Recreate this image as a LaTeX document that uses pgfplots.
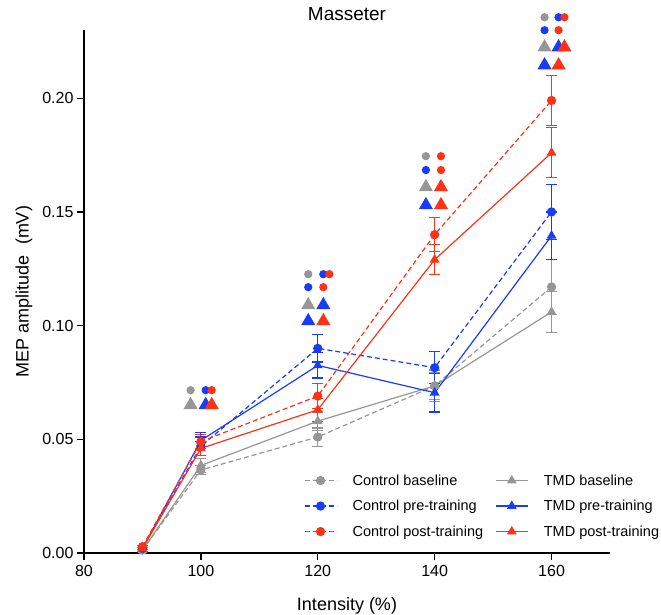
\documentclass[border=0pt]{standalone}
\usepackage{pgfplots}
\pgfplotsset{compat=1.18}
\usepackage{pgfplotstable}
\usepackage{fontspec}
\setmainfont{Liberation Sans}
\definecolor{cgray}{RGB}{150,150,150}
\definecolor{cblue}{RGB}{25,60,250}
\definecolor{cred}{RGB}{255,50,20}

\pgfplotstableread{
x y e
90 0.0012 0.0005
100 0.0365 0.002
120 0.051 0.004
140 0.0735 0.006
160 0.117 0.012
}\cbase
\pgfplotstableread{
x y e
90 0.0012 0.0005
100 0.0385 0.003
120 0.058 0.004
140 0.0735 0.007
160 0.106 0.009
}\tbase
\pgfplotstableread{
x y e
90 0.002 0.0005
100 0.047 0.004
120 0.090 0.006
140 0.0815 0.007
160 0.150 0.012
}\cpre
\pgfplotstableread{
x y e
90 0.002 0.0005
100 0.0495 0.0035
120 0.0825 0.0055
140 0.0705 0.0085
160 0.1395 0.0105
}\tpre
\pgfplotstableread{
x y e
90 0.0028 0.0005
100 0.049 0.003
120 0.069 0.0055
140 0.140 0.0075
160 0.199 0.011
}\cpost
\pgfplotstableread{
x y e
90 0.002 0.0005
100 0.046 0.003
120 0.063 0.005
140 0.129 0.0065
160 0.176 0.011
}\tpost

\begin{document}
\begin{tikzpicture}
\useasboundingbox (-84pt,-62pt) rectangle (577pt,553pt);
\begin{axis}[
  anchor=south west, at={(0pt,0pt)},
  scale only axis, width=526pt, height=523pt,
  xmin=80, xmax=170, ymin=0, ymax=0.23,
  axis lines=left, axis line style={-, line width=1.4pt, black},
  xtick={80,100,120,140,160}, ytick={0,0.05,0.1,0.15,0.2},
  scaled y ticks=false,
  yticklabel style={/pgf/number format/.cd, fixed, fixed zerofill, precision=2},
  /pgf/number format/assume math mode=true,
  tick align=outside, major tick length=7pt,
  tick style={line width=1.4pt, black},
  ticklabel style={font=\fontsize{16}{19}\selectfont},
  xticklabel style={yshift=-2pt},
  xlabel={Intensity (\%)}, ylabel={MEP amplitude\ \ (mV)},
  label style={font=\fontsize{18}{21}\selectfont},
  xlabel style={yshift=-14pt},
  ylabel style={yshift=3pt},
  title={Masseter}, title style={font=\fontsize{19}{22}\selectfont, yshift=0pt},
  clip=false,
  legend columns=2,
  legend style={draw=none, fill=none, at={(0.412,0.158)}, anchor=north west,
    font=\fontsize{14.5}{17}\selectfont, row sep=9.5pt,
    /tikz/every odd column/.append style={column sep=13.5pt},
    /tikz/every even column/.append style={column sep=10pt}},
  legend cell align=left,
  legend image code/.code={\draw[mark repeat=2,mark phase=2] plot coordinates {(0pt,0pt) (16pt,0pt) (32pt,0pt)};},
  every axis plot/.append style={line width=1.2pt},
  error bars/error bar style={solid, line width=1.2pt},
  error bars/error mark options={rotate=90, mark size=5.5pt, line width=1.2pt},
]
\addplot[cgray, dash pattern=on 5pt off 3pt, mark=*, mark size=4pt, mark options={solid}, error bars/.cd, y dir=both, y explicit] table[x=x,y=y,y error=e]{\cbase};
\addlegendentry{Control baseline}
\addplot[cgray, mark=triangle*, mark size=4.5pt, mark options={solid}, error bars/.cd, y dir=both, y explicit] table[x=x,y=y,y error=e]{\tbase};
\addlegendentry{TMD baseline}
\addplot[cblue, dash pattern=on 5pt off 3pt, mark=*, mark size=4pt, mark options={solid}, error bars/.cd, y dir=both, y explicit] table[x=x,y=y,y error=e]{\cpre};
\addlegendentry{Control pre-training}
\addplot[cblue, mark=triangle*, mark size=4.5pt, mark options={solid}, error bars/.cd, y dir=both, y explicit] table[x=x,y=y,y error=e]{\tpre};
\addlegendentry{TMD pre-training}
\addplot[cred, dash pattern=on 5pt off 3pt, mark=*, mark size=4pt, mark options={solid}, error bars/.cd, y dir=both, y explicit] table[x=x,y=y,y error=e]{\cpost};
\addlegendentry{Control post-training}
\addplot[cred, mark=triangle*, mark size=4.5pt, mark options={solid}, error bars/.cd, y dir=both, y explicit] table[x=x,y=y,y error=e]{\tpost};
\addlegendentry{TMD post-training}

% significance markers
\addplot[only marks, forget plot, cgray, mark=*, mark size=3.5pt] coordinates {(98.24,0.0716) (118.37,0.1226) (138.5,0.1745) (158.8,0.2356)};
\addplot[only marks, forget plot, cblue, mark=*, mark size=3.5pt] coordinates {(100.82,0.0716) (120.95,0.1226) (118.37,0.1169) (138.5,0.1684) (161.2,0.2356) (158.8,0.2299)};
\addplot[only marks, forget plot, cred, mark=*, mark size=3.5pt] coordinates {(101.85,0.0716) (121.98,0.1226) (120.95,0.1169) (141.08,0.1745) (141.08,0.1684) (162.2,0.2356) (161.2,0.2299)};
\addplot[only marks, forget plot, cgray, mark=triangle*, mark size=7pt] coordinates {(98.24,0.0651) (118.37,0.1090) (138.5,0.1609) (158.8,0.2224)};
\addplot[only marks, forget plot, cblue, mark=triangle*, mark size=7pt] coordinates {(100.82,0.0651) (120.95,0.1090) (118.37,0.1020) (138.5,0.1530) (161.2,0.2224) (158.8,0.2145)};
\addplot[only marks, forget plot, cred, mark=triangle*, mark size=7pt] coordinates {(101.85,0.0651) (120.95,0.1020) (141.08,0.1609) (141.08,0.1530) (162.2,0.2224) (161.2,0.2145)};
\end{axis}
\end{tikzpicture}
\end{document}
